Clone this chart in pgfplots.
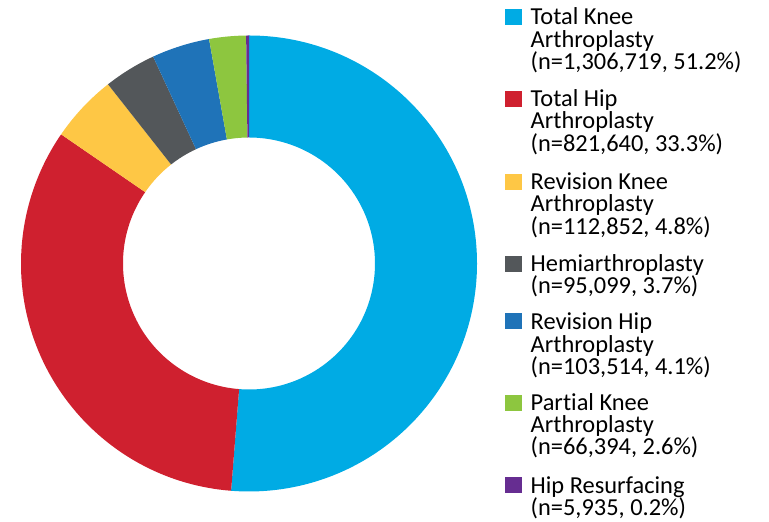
\documentclass[border=0pt]{standalone}
\usepackage{pgfplots}
\pgfplotsset{compat=1.18}
\usepackage{pgfplotstable}
\usepackage{fontspec}
\setmainfont[Ligatures=NoCommon]{Carlito}
\definecolor{cTKA}{RGB}{0,171,228}
\definecolor{cTHA}{RGB}{207,32,47}
\definecolor{cRKA}{RGB}{254,199,69}
\definecolor{cHemi}{RGB}{83,87,90}
\definecolor{cRHA}{RGB}{31,115,184}
\definecolor{cPKA}{RGB}{141,198,63}
\definecolor{cHR}{RGB}{102,45,145}
% slice order clockwise from 12 o'clock
\pgfplotstableread{
label pct color
TKA 51.2 cTKA
THA 33.3 cTHA
RKA 4.8 cRKA
Hemi 3.7 cHemi
RHA 4.1 cRHA
PKA 2.6 cPKA
HR 0.2 cHR
}\piedata
\begin{document}
\begin{tikzpicture}
\begin{axis}[
  scale only axis, hide axis, clip=false,
  x=1bp, y=1bp, xmin=0, xmax=769, ymin=0, ymax=522,
]
\pgfplotstablegetrowsof{\piedata}
\pgfmathtruncatemacro\N{\pgfplotsretval-1}
\def\cum{0}
\pgfplotsforeachungrouped \i in {0,...,\N}{%
  \pgfplotstablegetelem{\i}{pct}\of\piedata \let\v\pgfplotsretval
  \pgfplotstablegetelem{\i}{color}\of\piedata \let\c\pgfplotsretval
  \pgfmathsetmacro\a{90-\cum/99.9*360}%
  \pgfmathsetmacro\cum{\cum+\v}%
  \pgfmathsetmacro\b{90-\cum/99.9*360}%
  \pgfmathsetmacro\bb{\b+180}%
  \edef\temp{\noexpand\fill[\c] (axis cs:249,258.5) ++(\a:228bp)
     arc[start angle=\a, end angle=\b, radius=228bp]
     -- ++(\bb:102bp)
     arc[start angle=\b, end angle=\a, radius=126bp] -- cycle;}%
  \temp
}
% legend
\newcommand\legsq[2]{%
  \edef\temp{\noexpand\fill[#1] (axis cs:504.5,{522-#2}) rectangle (axis cs:521.5,{522-#2+16});}\temp}
\newcommand\legline[2]{%
  \node[anchor=base west, inner sep=0pt, font=\fontsize{24.4bp}{24bp}\selectfont] at (axis cs:530.5,{522-#1}) {#2};}
\legsq{cTKA}{25}
\legline{25}{Total Knee}
\legline{47.3}{Arthroplasty}
\legline{69.6}{(n=1,306,719, 51.2\%)}
\legsq{cTHA}{106.7}
\legline{106.7}{Total Hip}
\legline{129}{Arthroplasty}
\legline{151.5}{(n=821,640, 33.3\%)}
\legsq{cRKA}{190}
\legline{190}{Revision Knee}
\legline{212}{Arthroplasty}
\legline{234.3}{(n=112,852, 4.8\%)}
\legsq{cHemi}{271.7}
\legline{271.7}{Hemiarthroplasty}
\legline{294}{(n=95,099, 3.7\%)}
\legsq{cRHA}{329.3}
\legline{329.3}{Revision Hip}
\legline{352.8}{Arthroplasty}
\legline{375}{(n=103,514, 4.1\%)}
\legsq{cPKA}{410.7}
\legline{410.7}{Partial Knee}
\legline{432.8}{Arthroplasty}
\legline{455}{(n=66,394, 2.6\%)}
\legsq{cHR}{493.3}
\legline{493.3}{Hip Resurfacing}
\legline{515.6}{(n=5,935, 0.2\%)}
\end{axis}
\pgfresetboundingbox
\path (current axis.south west) rectangle (current axis.north east);
\end{tikzpicture}
\end{document}
